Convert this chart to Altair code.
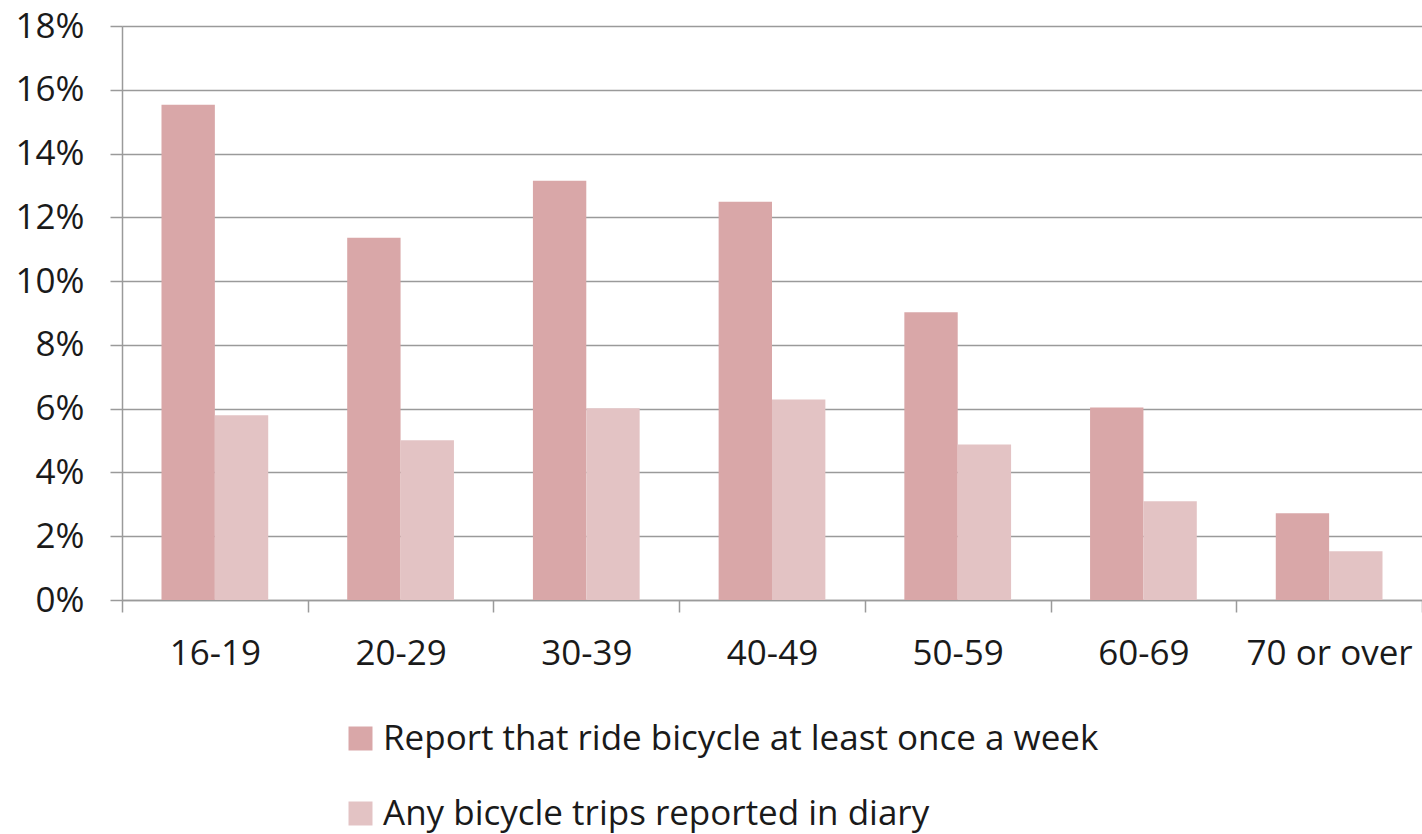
import altair as alt
import pandas as pd

# Age groups and the two survey measures (share of respondents)
age_groups = ["16-19", "20-29", "30-39", "40-49", "50-59", "60-69", "70 or over"]
weekly_riders = [0.1553, 0.1136, 0.1315, 0.1249, 0.0902, 0.0604, 0.0272]
diary_trips = [0.0579, 0.0501, 0.0601, 0.0629, 0.0488, 0.0310, 0.0153]

series_names = [
    "Report that ride bicycle at least once a week",
    "Any bicycle trips reported in diary",
]
series_colors = ["#D9A7A8", "#E3C3C4"]
y_ticks = [0, 0.02, 0.04, 0.06, 0.08, 0.10, 0.12, 0.14, 0.16, 0.18]

rows = []
for age, w, d in zip(age_groups, weekly_riders, diary_trips):
    rows.append({"age": age, "series": series_names[0], "value": w})
    rows.append({"age": age, "series": series_names[1], "value": d})
df = pd.DataFrame(rows)

FONT = "Open Sans"
TEXT = "#1a1a1a"
GRID = "#9a9a9a"

chart = (
    alt.Chart(df)
    .mark_bar()
    .encode(
        x=alt.X(
            "age:N",
            sort=age_groups,
            title=None,
            scale=alt.Scale(paddingInner=0, paddingOuter=0),
            axis=alt.Axis(
                labelAngle=0,
                labelFont=FONT,
                labelFontSize=35,
                labelColor=TEXT,
                labelBaseline="alphabetic",
                labelPadding=52,
                tickBand="extent",
                tickSize=12,
                tickColor=GRID,
                tickWidth=1.5,
                domainColor=GRID,
                domainWidth=1.5,
                grid=False,
            ),
        ),
        xOffset=alt.XOffset(
            "series:N",
            sort=series_names,
            scale=alt.Scale(paddingInner=0, paddingOuter=0.74),
        ),
        y=alt.Y(
            "value:Q",
            title=None,
            scale=alt.Scale(domain=[0, 0.18], nice=False),
            axis=alt.Axis(
                values=y_ticks,
                format=".0%",
                labelFont=FONT,
                labelFontSize=35,
                labelColor=TEXT,
                labelPadding=26,
                tickSize=12,
                tickColor=GRID,
                tickWidth=1.5,
                domainColor=GRID,
                domainWidth=1.5,
                grid=True,
                gridColor=GRID,
                gridWidth=1.5,
            ),
        ),
        color=alt.Color(
            "series:N",
            sort=series_names,
            scale=alt.Scale(domain=series_names, range=series_colors),
            legend=alt.Legend(
                title=None,
                orient="none",
                legendX=221,
                legendY=695,
                direction="vertical",
                symbolType="square",
                symbolSize=576,
                symbolStrokeWidth=0,
                symbolOpacity=1,
                labelFont=FONT,
                labelFontSize=35,
                labelColor=TEXT,
                labelOffset=5,
                labelLimit=1000,
                rowPadding=39,
            ),
        ),
    )
    .properties(
        width=1300,
        height=574,
        autosize=alt.AutoSizeParams(type="none"),
        padding={"left": 122, "top": 26, "right": 0, "bottom": 234},
    )
    .configure_view(stroke=None)
    .configure(background="white")
)

chart.save("out.html", embed_options={"renderer": "svg", "actions": False})
